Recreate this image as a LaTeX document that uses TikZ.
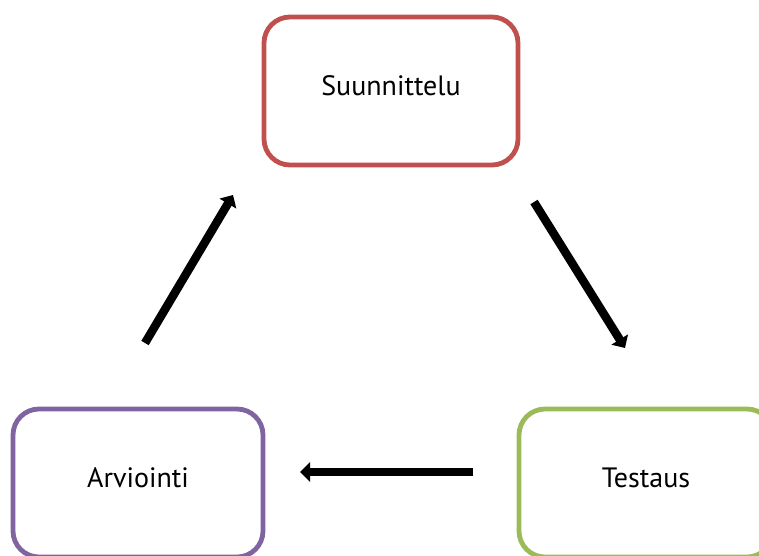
\documentclass[tikz,border=0pt]{standalone}
\usepackage{fontspec}
\setmainfont{PT Sans}
\usetikzlibrary{arrows.meta}
\definecolor{boxred}{HTML}{C0504D}
\definecolor{boxgreen}{HTML}{9BBB59}
\definecolor{boxpurple}{HTML}{8064A2}
\begin{document}
\begin{tikzpicture}[x=1pt,y=-1pt,
  stagebox/.style={draw, line width=4.8pt, rounded corners=26pt, minimum width=254pt, minimum height=148pt, inner sep=0pt, font=\fontsize{28}{32}\selectfont, text depth=10pt},
  flowarrow/.style={line width=8.5pt, -{Triangle[length=10pt,width=19pt]}}]
\useasboundingbox (0,0) rectangle (759,555);
\begin{scope}
\clip (0,0) rectangle (759,555);
\node[stagebox, draw=boxred] (plan) at (391,91) {Suunnittelu};
\node[stagebox, draw=boxpurple, minimum width=250pt] (eval) at (138,483) {Arviointi};
\node[stagebox, draw=boxgreen] (test) at (646,483) {Testaus};
\end{scope}
\coordinate (a1s) at (145,343);
\coordinate (a1e) at (233,195);
\coordinate (a2s) at (534,202);
\coordinate (a2e) at (625,348);
\coordinate (a3s) at (473,472);
\coordinate (a3e) at (300,472);
\draw[flowarrow] (a1s) -- (a1e);
\draw[flowarrow] (a2s) -- (a2e);
\draw[flowarrow] (a3s) -- (a3e);
\end{tikzpicture}
\end{document}
